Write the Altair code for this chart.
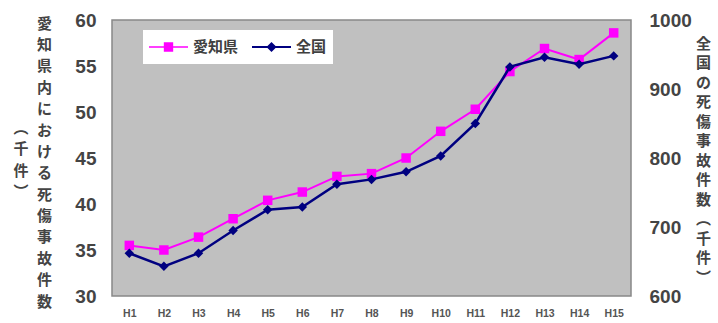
import altair as alt
import pandas as pd

labels = ["H1", "H2", "H3", "H4", "H5", "H6", "H7", "H8", "H9", "H10",
          "H11", "H12", "H13", "H14", "H15"]
aichi = [35.5, 35.0, 36.4, 38.4, 40.4, 41.3, 43.0, 43.3, 45.0, 47.9,
         50.3, 54.4, 56.9, 55.7, 58.6]
national = [662, 643, 662, 695, 725, 729, 762, 769, 780, 803,
            850, 932, 946, 936, 948]
series_names = ["愛知県", "全国"]
series_colors = ["#ff00ff", "#000080"]
left_ticks = [30, 35, 40, 45, 50, 55, 60]
right_ticks = [600, 700, 800, 900, 1000]
left_title_main = list("愛知県内における死傷事故件数")
left_title_unit = list("︵千件︶")
right_title = list("全国の死傷事故件数︵千件︶")

df = pd.DataFrame({
    "label": labels * 2,
    "series": [series_names[0]] * len(labels) + [series_names[1]] * len(labels),
    "value": aichi + national,
})
unit_df = pd.DataFrame({"unit": ["".join(left_title_unit)]})

CJK = "Noto Sans CJK JP"
NUM = "Liberation Sans"
TXT = "#444444"

x = alt.X("label:N", sort=labels, scale=alt.Scale(type="point", padding=0.5),
          axis=alt.Axis(title=None, labelAngle=0, labelFont=NUM, labelFontSize=10.5,
                        labelFontWeight="bold", labelColor="#555555", labelPadding=12,
                        ticks=False, domain=False, grid=False))

y_left = alt.Y("value:Q", scale=alt.Scale(domain=[30, 60], nice=False, zero=False),
               axis=alt.Axis(values=left_ticks, format="d", title=left_title_main,
                             titleAngle=0, titleAlign="center", titleBaseline="middle",
                             titleX=-68, titleY=3, titleLineHeight=21.4,
                             titleFont=CJK, titleFontSize=15, titleFontWeight="bold",
                             titleColor=TXT,
                             labelFont=NUM, labelFontSize=19, labelFontWeight="bold",
                             labelColor=TXT, labelPadding=16, tickSize=0,
                             ticks=False, domain=False, grid=False))

y_right = alt.Y("value:Q", scale=alt.Scale(domain=[600, 1000], nice=False, zero=False),
                axis=alt.Axis(orient="right", values=right_ticks, format="d",
                              title=right_title,
                              titleAngle=0, titleAlign="center", titleBaseline="middle",
                              titleX=72, titleY=23, titleLineHeight=19.5,
                              titleFont=CJK, titleFontSize=15, titleFontWeight="bold",
                              titleColor=TXT,
                              labelFont=NUM, labelFontSize=19, labelFontWeight="bold",
                              labelColor=TXT, labelPadding=18, tickSize=0,
                              ticks=False, domain=False, grid=False))

legend = alt.Legend(title=None, orient="none", legendX=31, legendY=10,
                    direction="horizontal", fillColor="#ffffff", padding=6,
                    labelFont=CJK, labelFontSize=15, labelFontWeight="bold",
                    labelColor="#404040", symbolSize=1521, clipHeight=22,
                    labelOffset=5, columnPadding=13, symbolStrokeWidth=0,
                    symbolOpacity=1)

legend_paths = [
    "M-1,-0.04H1V0.04H-1Z M-0.24,-0.24H0.24V0.24H-0.24Z",
    "M-1,-0.05H1V0.05H-1Z M-0.26,0L0,-0.26L0.26,0L0,0.26Z",
]

aichi_base = alt.Chart(df).transform_filter(alt.datum.series == series_names[0])
nat_base = alt.Chart(df).transform_filter(alt.datum.series == series_names[1])

a_line = aichi_base.mark_line(color=series_colors[0], strokeWidth=2).encode(x=x, y=y_left)
a_pts = aichi_base.mark_point(shape="square", filled=True, size=90, opacity=1,
                              color=series_colors[0]).encode(x=x, y=y_left)
a_legend = aichi_base.mark_point(filled=True, opacity=0).encode(
    x=x, y=y_left,
    color=alt.Color("series:N", scale=alt.Scale(domain=series_names, range=series_colors),
                    legend=legend),
    shape=alt.Shape("series:N", scale=alt.Scale(domain=series_names, range=legend_paths),
                    legend=legend),
)

# second column of the left (vertical) axis title: （千件）
unit_col = alt.Chart(unit_df).mark_text(
    text=left_title_unit, font=CJK, fontSize=15, fontWeight="bold", color=TXT,
    lineHeight=21.4, align="center", baseline="middle",
).encode(x=alt.value(-91), y=alt.value(108))

n_line = nat_base.mark_line(color=series_colors[1], strokeWidth=2.5).encode(x=x, y=y_right)
n_pts = nat_base.mark_point(shape="diamond", filled=True, size=90, opacity=1,
                            color=series_colors[1]).encode(x=x, y=y_right)

left = alt.layer(a_line, a_pts, a_legend, unit_col)
right = alt.layer(n_line, n_pts)

chart = alt.layer(left, right).resolve_scale(y="independent").properties(
    width=519, height=276,
    padding={"left": 112, "top": 20, "right": 87, "bottom": 27},
    autosize=alt.AutoSizeParams(type="none"),
    background="#ffffff",
).configure_view(fill="#c0c0c0", stroke="#888888", strokeWidth=1.5)

chart.save("out.html", embed_options={"renderer": "svg", "actions": False})
